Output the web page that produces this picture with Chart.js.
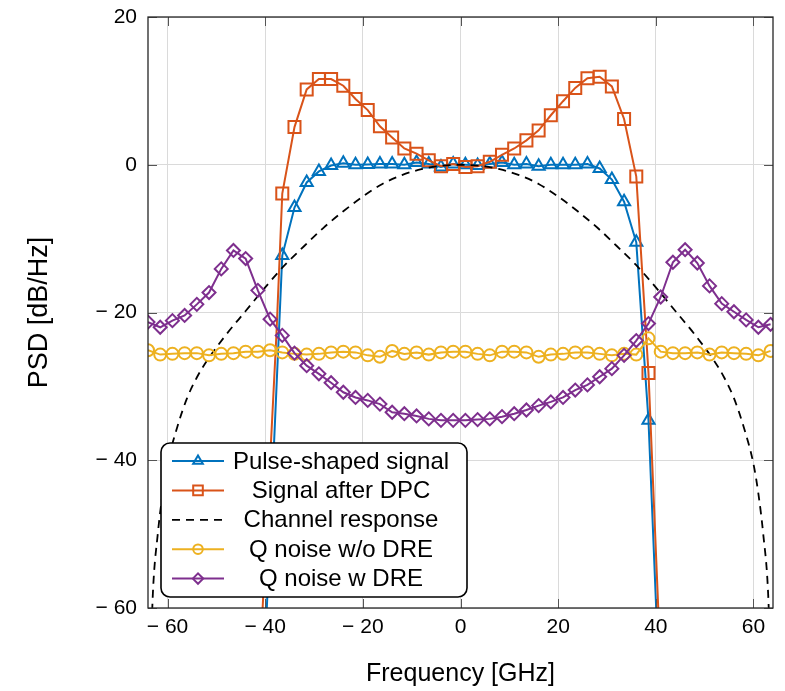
<!DOCTYPE html>
<html lang="en">
<head>
  <meta charset="UTF-8">
  <title>PSD</title>
  <script src="https://cdn.jsdelivr.net/npm/chart.js@4.4.1/dist/chart.umd.min.js"></script>
  <style>
    html, body { margin: 0; padding: 0; background: #fff; }
    canvas { display: block; }
  </style>
</head>
<body>
  <canvas id="psd-chart" width="785" height="691"></canvas>

  <script>
    // frequency grid of the noise curves (GHz)
    const noiseFreq = [-64, -61.5, -59, -56.5, -54, -51.5, -49, -46.5, -44, -41.5, -39, -36.5, -34, -31.5, -29, -26.5,
      -24, -21.5, -19, -16.5, -14, -11.5, -9, -6.5, -4, -1.5, 1, 3.5, 6, 8.5, 11, 13.5, 16, 18.5, 21, 23.5, 26,
      28.5, 31, 33.5, 36, 38.5, 41, 43.5, 46, 48.5, 51, 53.5, 56, 58.5, 61, 63.5];
    const qNoiseNoDre = [-25.1, -25.7, -25.6, -25.5, -25.5, -25.8, -25.6, -25.5, -25.3, -25.3, -25.1, -25.4, -25.6,
      -25.7, -25.6, -25.4, -25.3, -25.4, -25.8, -26.0, -25.2, -25.6, -25.4, -25.7, -25.4, -25.3, -25.3, -25.6,
      -25.8, -25.3, -25.3, -25.4, -26.0, -25.7, -25.6, -25.4, -25.4, -25.6, -25.8, -25.6, -25.7, -23.5, -25.3,
      -25.5, -25.5, -25.4, -25.7, -25.4, -25.5, -25.6, -25.8, -25.2];
    const qNoiseDre = [-21.3, -22.0, -21.1, -20.4, -18.9, -17.3, -14.1, -11.6, -12.7, -17.0, -20.9, -23.1, -25.5,
      -27.2, -28.3, -29.5, -30.8, -31.5, -31.9, -32.4, -33.5, -33.7, -34.0, -34.4, -34.6, -34.6, -34.6, -34.5,
      -34.4, -34.1, -33.7, -33.2, -32.6, -32.1, -31.5, -30.5, -29.8, -28.7, -27.6, -25.8, -23.8, -21.5, -17.9,
      -13.2, -11.5, -13.3, -16.4, -18.8, -19.9, -21.0, -22.0, -21.6];

    // marker points of the two signal curves
    const sigFreq = [-36.5, -34, -31.5, -29, -26.5, -24, -21.5, -19, -16.5, -14, -11.5, -9, -6.5, -4, -1.5, 1, 3.5,
      6, 8.5, 11, 13.5, 16, 18.5, 21, 23.5, 26, 28.5, 31, 33.5, 36, 38.5];
    const pulseShaped = [-12.3, -5.8, -2.4, -0.9, -0.1, 0.2, 0.0, 0.05, 0.1, 0.1, 0.0, 0.3, 0.1, -0.3, 0.1, 0.0, -0.1,
      0.1, 0.3, 0.0, 0.1, -0.2, 0.0, 0.0, 0.0, 0.1, -0.5, -2.0, -5.0, -10.5, -34.6];
    const afterDpc = [-3.9, 5.1, 10.2, 11.6, 11.6, 10.7, 8.9, 7.4, 5.2, 3.7, 2.2, 1.5, 0.6, -0.2, 0.1, -0.3, -0.2,
      0.4, 1.35, 2.2, 3.3, 4.65, 6.7, 8.6, 10.4, 11.7, 11.9, 10.6, 6.2, -1.6, -28.2];

    // steep band edges between markers (no marker drawn)
    const pulseEdgeFreq = [-40, 41];
    const pulseEdgeVal = [-65, -75];
    const dpcEdgeFreq = [-40.6, -37.7, 41];
    const dpcEdgeVal = [-61, -23, -68];

    // channel response (dashed)
    const chanFreq = [-63.6, -63, -62, -61, -60, -58, -56, -54, -52, -48, -44, -40, -36, -32, -28, -24, -20, -16, -12,
      -8, -4, 0, 4, 8, 12, 16, 20, 24, 28, 32, 36, 40, 44, 48, 52, 54, 56, 58, 60, 61, 62, 63, 63.6];
    const chanResp = [-70, -58, -50, -44.5, -40.5, -35.5, -31.6, -28.8, -26.6, -23, -19.8, -16.6, -13.6, -11, -8.5,
      -6.3, -4.3, -2.6, -1.4, -0.6, -0.15, 0, -0.15, -0.6, -1.4, -2.6, -4.3, -6.3, -8.5, -11, -13.6, -16.6, -19.8,
      -23, -26.6, -28.8, -31.6, -35.5, -40.5, -44.5, -50, -58, -70];

    const xTicks = [-60, -40, -20, 0, 20, 40, 60];
    const yTicks = [-60, -40, -20, 0, 20];

    const FONT = '"Liberation Sans", Arial, Helvetica, sans-serif';
    Chart.defaults.font.family = FONT;
    Chart.defaults.color = '#000';

    function toPoints(xs, ys) {
      return xs.map((x, i) => ({ x: x, y: ys[i] }));
    }

    // markers + edge points, sorted by x; edge points get no marker
    function withEdges(xs, ys, ex, ey) {
      const pts = toPoints(xs, ys).map(p => ({ ...p, m: true }))
        .concat(toPoints(ex, ey).map(p => ({ ...p, m: false })));
      pts.sort((a, b) => a.x - b.x);
      return pts;
    }

    const pulsePts = withEdges(sigFreq, pulseShaped, pulseEdgeFreq, pulseEdgeVal);
    const dpcPts = withEdges(sigFreq, afterDpc, dpcEdgeFreq, dpcEdgeVal);

    const fmt = v => v < 0 ? '\u2212 ' + (-v) : String(v);

    // inner ticks + full box like matlab axes
    const axesBox = {
      id: 'axesBox',
      afterDatasetsDraw(chart) {
        const { ctx, chartArea: a, scales } = chart;
        ctx.save();
        ctx.strokeStyle = '#555';
        ctx.lineWidth = 1;
        ctx.beginPath();
        xTicks.forEach(v => {
          const px = Math.round(scales.x.getPixelForValue(v)) + 0.5;
          ctx.moveTo(px, a.bottom); ctx.lineTo(px, a.bottom - 9);
          ctx.moveTo(px, a.top); ctx.lineTo(px, a.top + 9);
        });
        yTicks.forEach(v => {
          const py = Math.round(scales.y.getPixelForValue(v)) + 0.5;
          ctx.moveTo(a.left, py); ctx.lineTo(a.left + 9, py);
          ctx.moveTo(a.right, py); ctx.lineTo(a.right - 9, py);
        });
        ctx.stroke();
        ctx.strokeStyle = '#262626';
        ctx.lineWidth = 1.3;
        ctx.strokeRect(a.left, a.top, a.right - a.left, a.bottom - a.top);
        ctx.restore();
      }
    };

    const legendBox = {
      id: 'legendBox',
      afterDraw(chart) {
        const { ctx, chartArea: a } = chart;
        const x0 = a.left + 13, y0 = a.bottom - 165, w = 306, h = 154;
        ctx.save();
        ctx.beginPath();
        ctx.roundRect(x0, y0, w, h, 9);
        ctx.fillStyle = '#fff';
        ctx.fill();
        ctx.lineWidth = 1.6;
        ctx.strokeStyle = '#000';
        ctx.stroke();
        chart.data.datasets.forEach((ds, i) => {
          const y = y0 + 18 + i * 29.4;
          ctx.strokeStyle = ds.borderColor;
          ctx.lineWidth = ds.borderWidth;
          ctx.setLineDash(ds.borderDash || []);
          ctx.beginPath();
          ctx.moveTo(x0 + 11, y);
          ctx.lineTo(x0 + 63, y);
          ctx.stroke();
          ctx.setLineDash([]);
          if (ds.pointStyle) {
            ctx.fillStyle = 'rgba(0,0,0,0)';
            ctx.lineWidth = ds.pointBorderWidth;
            Chart.helpers.drawPoint(ctx, {
              pointStyle: ds.pointStyle, radius: ds.markerRadius * 0.8, rotation: 0, borderWidth: ds.pointBorderWidth
            }, x0 + 37, y);
          }
          ctx.fillStyle = '#000';
          ctx.font = '24px ' + FONT;
          ctx.textAlign = 'center';
          ctx.textBaseline = 'middle';
          ctx.fillText(ds.label, x0 + 180, y + 1);
        });
        ctx.restore();
      }
    };

    function markerRadius(r) {
      return c => (c.raw && c.raw.m === false) ? 0 : r;
    }

    new Chart(document.getElementById('psd-chart'), {
      type: 'line',
      data: {
        datasets: [
          {
            label: 'Pulse-shaped signal',
            data: pulsePts,
            borderColor: '#0072BD',
            borderWidth: 2,
            pointStyle: 'triangle',
            markerRadius: 7,
            pointRadius: markerRadius(7),
            pointBorderColor: '#0072BD',
            pointBackgroundColor: 'rgba(0,0,0,0)',
            pointBorderWidth: 2,
            order: 5
          },
          {
            label: 'Signal after DPC',
            data: dpcPts,
            borderColor: '#D95319',
            borderWidth: 2,
            pointStyle: 'rect',
            markerRadius: 8.5,
            pointRadius: markerRadius(8.5),
            pointBorderColor: '#D95319',
            pointBackgroundColor: 'rgba(0,0,0,0)',
            pointBorderWidth: 2,
            order: 4
          },
          {
            label: 'Channel response',
            data: toPoints(chanFreq, chanResp),
            borderColor: '#000',
            borderWidth: 1.8,
            borderDash: [8, 6],
            pointRadius: 0,
            cubicInterpolationMode: 'monotone',
            order: 3
          },
          {
            label: 'Q noise w/o DRE',
            data: toPoints(noiseFreq, qNoiseNoDre),
            borderColor: '#EDB120',
            borderWidth: 2,
            pointStyle: 'circle',
            markerRadius: 6,
            pointRadius: 6,
            pointBorderColor: '#EDB120',
            pointBackgroundColor: 'rgba(0,0,0,0)',
            pointBorderWidth: 2,
            order: 2
          },
          {
            label: 'Q noise w DRE',
            data: toPoints(noiseFreq, qNoiseDre),
            borderColor: '#7E2F8E',
            borderWidth: 2,
            pointStyle: 'rectRot',
            markerRadius: 6.5,
            pointRadius: 6.5,
            pointBorderColor: '#7E2F8E',
            pointBackgroundColor: 'rgba(0,0,0,0)',
            pointBorderWidth: 2,
            order: 1
          }
        ]
      },
      options: {
        responsive: false,
        animation: false,
        clip: 0,
        layout: { padding: { top: 17, right: 12, left: 0, bottom: 0 } },
        plugins: { legend: { display: false }, tooltip: { enabled: false } },
        scales: {
          x: {
            type: 'linear',
            min: -64,
            max: 64,
            afterBuildTicks: s => { s.ticks = xTicks.map(v => ({ value: v })); },
            afterFit: s => { s.height = 83; s.paddingLeft = 0; s.paddingRight = 0; },
            grid: { color: '#dadada', lineWidth: 1, drawTicks: false },
            border: { display: false },
            ticks: { font: { size: 21 }, padding: 7, maxRotation: 0, callback: fmt },
            title: { display: true, text: 'Frequency [GHz]', font: { size: 25 }, padding: { top: 0, bottom: 2 } }
          },
          y: {
            min: -60,
            max: 20,
            afterBuildTicks: s => { s.ticks = yTicks.map(v => ({ value: v })); },
            afterFit: s => { s.width = 148; s.paddingTop = 0; s.paddingBottom = 0; },
            grid: { color: '#dadada', lineWidth: 1, drawTicks: false },
            border: { display: false },
            ticks: { font: { size: 21 }, padding: 11, callback: fmt },
            title: { display: true, text: 'PSD [dB/Hz]', font: { size: 27 }, padding: { top: 23, bottom: 0 } }
          }
        }
      },
      plugins: [axesBox, legendBox]
    });
  </script>
</body>
</html>
